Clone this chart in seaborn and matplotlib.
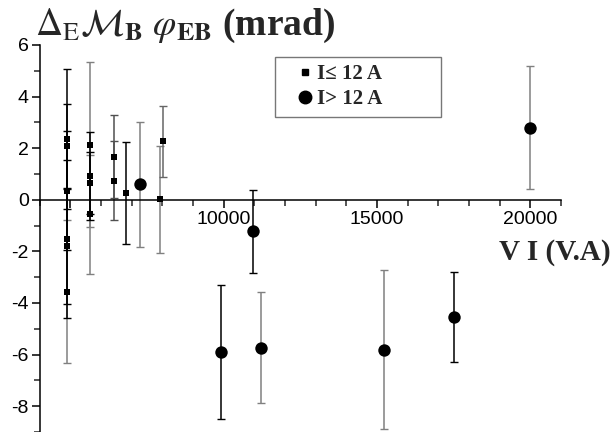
import matplotlib
matplotlib.use('Agg')
import matplotlib.pyplot as plt
from matplotlib.ticker import MultipleLocator, FixedLocator, FixedFormatter
from matplotlib.lines import Line2D
import numpy as np
import pandas as pd
import seaborn as sns

sns.set_style('ticks')
plt.rcParams['font.family'] = ['Liberation Sans', 'DejaVu Sans']
plt.rcParams['mathtext.fontset'] = 'stix'
plt.rcParams['axes.unicode_minus'] = False

# data
low_x = [4900, 4900, 4900, 4900, 4900, 4900, 5650, 5650, 5650, 5650,
         6420, 6420, 6800, 7920, 8030]
low_y = [2.36, 2.08, 0.35, -1.53, -1.81, -3.56, 2.13, 0.92, 0.66, -0.57,
         1.66, 0.73, 0.25, 0.02, 2.27]
low_err = [2.70, 1.62, 2.31, 3.07, 2.22, 2.78, 3.20, 1.70, 1.20, 2.32,
           1.61, 1.53, 1.97, 2.07, 1.37]

high_x = [7260, 9900, 10950, 11220, 15230, 17500, 20000]
high_y = [0.60, -5.89, -1.23, -5.73, -5.81, -4.54, 2.80]
high_err = [2.43, 2.60, 1.61, 2.15, 3.07, 1.74, 2.40]

labels = ['I\u2264 12 A', 'I> 12 A']

# bar colours (style only)
low_col = ['k', 'k', 'k', 'k', 'k', '#808080', '#808080', 'k', 'k', '#808080',
           '#505050', '#505050', 'k', '#808080', '#666666']
high_col = ['#808080', 'k', 'k', '#808080', '#808080', 'k', '#808080']

df = pd.concat([
    pd.DataFrame({'VI': low_x, 'phi': low_y, 'err': low_err, 'col': low_col, 'grp': labels[0]}),
    pd.DataFrame({'VI': high_x, 'phi': high_y, 'err': high_err, 'col': high_col, 'grp': labels[1]}),
])

fig = plt.figure(figsize=(6.13, 4.32), dpi=100)
ax = fig.add_axes([0.065, 0.0, 0.85, 0.896])

for _, r in df.iterrows():
    z = 3 if r['col'] == 'k' else 2
    ax.errorbar(r['VI'], r['phi'], yerr=r['err'], fmt='none', ecolor=r['col'],
                elinewidth=1.1, capsize=3.2, capthick=1.0, zorder=z)

sns.scatterplot(data=df[df.grp == labels[0]], x='VI', y='phi', marker='s', s=16,
                color='k', edgecolor='k', linewidth=0, ax=ax, zorder=5, legend=False)
sns.scatterplot(data=df[df.grp == labels[1]], x='VI', y='phi', marker='o', s=80,
                color='k', edgecolor='k', linewidth=0, ax=ax, zorder=5, legend=False)

ax.set_xlim(4000, 21000)
ax.set_ylim(-9, 6)
ax.spines['top'].set_visible(False)
ax.spines['right'].set_visible(False)
ax.spines['bottom'].set_position(('data', 0))
for s in ['left', 'bottom']:
    ax.spines[s].set_linewidth(1.1)
    ax.spines[s].set_color('k')

ax.xaxis.set_major_locator(FixedLocator([5000, 10000, 15000, 20000]))
ax.xaxis.set_major_formatter(FixedFormatter(['', '10000', '15000', '20000']))
ax.xaxis.set_minor_locator(MultipleLocator(1000))
ax.yaxis.set_major_locator(MultipleLocator(2))
ax.yaxis.set_minor_locator(MultipleLocator(1))
ax.tick_params(which='major', direction='out', length=6, width=1.1, labelsize=14,
               colors='k', pad=2)
ax.tick_params(which='minor', direction='out', length=4, width=1.1)
ax.set_xlabel('')
ax.set_ylabel('')

handles = [Line2D([], [], marker='s', color='k', linestyle='none', markersize=4),
           Line2D([], [], marker='o', color='k', linestyle='none', markersize=9)]
leg = ax.legend(handles, labels, loc='upper left', bbox_to_anchor=(0.451, 0.969),
                borderaxespad=0, frameon=True, fancybox=False, edgecolor='#555555',
                handlelength=2.2, handletextpad=-0.55, borderpad=0.35, labelspacing=0.25,
                prop={'family': 'Liberation Serif', 'weight': 'bold', 'size': 15})
leg.get_frame().set_linewidth(1.0)
for t in leg.get_texts():
    t.set_text(t.get_text() + '          ')

fig.text(35 / 613, 1 - 35 / 432,
         r'$\Delta_{\mathrm{E}}\mathcal{M}_{\mathbf{B}}\ \varphi_{\mathbf{EB}}$ (mrad)',
         fontsize=27, fontweight='bold', family='Liberation Serif', va='baseline', ha='left')
fig.text(611 / 613, 1 - 260 / 432, 'V I (V.A)', fontsize=21, fontweight='bold',
         family='Liberation Serif', va='baseline', ha='right')

fig.savefig('out.png', dpi=100)
